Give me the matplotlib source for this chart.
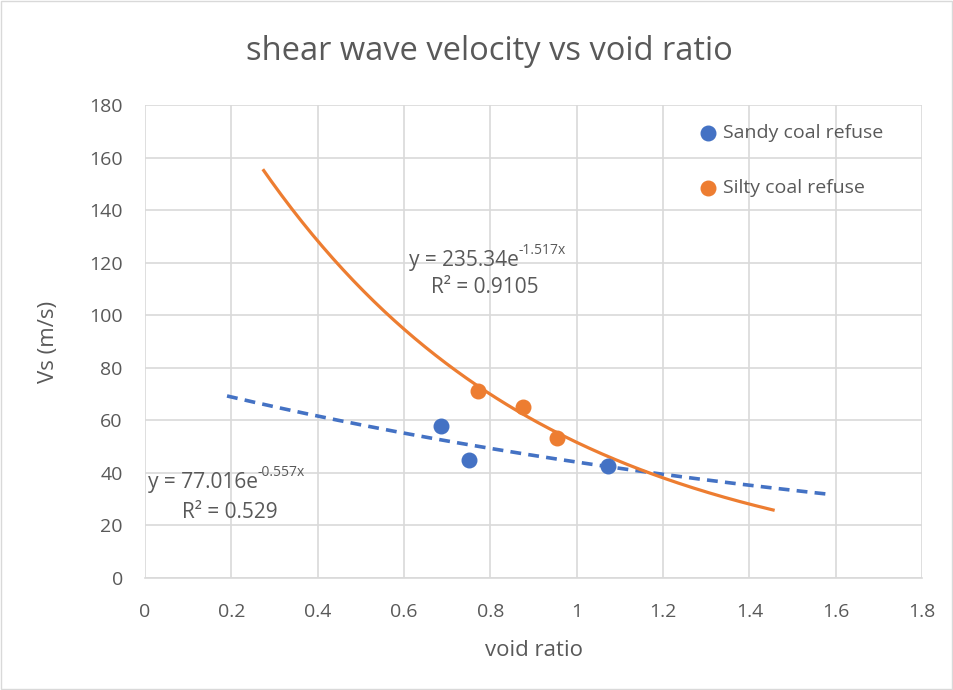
import numpy as np
import matplotlib
matplotlib.use("Agg")
import matplotlib.pyplot as plt
from matplotlib.patches import Rectangle

plt.rcParams['font.family'] = ['Open Sans', 'DejaVu Sans']

sandy_x = [0.686, 0.751, 1.073]
sandy_y = [57.8, 44.9, 42.6]
silty_x = [0.771, 0.876, 0.954]
silty_y = [71.2, 65.1, 53.3]

# trendline coefficients as displayed
sandy_a, sandy_b = 77.016, -0.557
silty_a, silty_b = 235.34, -1.517
sandy_range = (0.19, 1.58)
silty_range = (0.275, 1.455)

blue = '#4472C4'
orange = '#ED7D31'
gray = '#595959'

fig = plt.figure(figsize=(9.54, 6.9), dpi=100)
fig.patches.append(Rectangle((0.001, 0.001), 0.997, 0.997, transform=fig.transFigure,
                             fill=False, edgecolor='#D9D9D9', linewidth=1))
ax = fig.add_axes([0.152, 0.1623, 0.8145, 0.6855])

xs = np.linspace(*sandy_range, 200)
ax.plot(xs, sandy_a * np.exp(sandy_b * xs), color=blue, linewidth=2.6,
        linestyle=(0, (3, 2)), zorder=3)
xo = np.linspace(*silty_range, 200)
ax.plot(xo, silty_a * np.exp(silty_b * xo), color=orange, linewidth=2.3, zorder=3)

ax.scatter(sandy_x, sandy_y, s=110, color=blue, zorder=4, label='Sandy coal refuse')
ax.scatter(silty_x, silty_y, s=110, color=orange, zorder=4, label='Silty coal refuse')

ax.set_xlim(0, 1.8)
ax.set_ylim(0, 180)
ax.set_xticks(np.arange(0, 1.81, 0.2))
ax.set_xticklabels(['0', '0.2', '0.4', '0.6', '0.8', '1', '1.2', '1.4', '1.6', '1.8'])
ax.set_yticks(np.arange(0, 181, 20))
ax.grid(True, color='#D9D9D9', linewidth=1.2)
ax.set_axisbelow(True)
for s in ['top', 'right', 'left']:
    ax.spines[s].set_visible(False)
ax.spines['bottom'].set_color('#D9D9D9')
ax.spines['bottom'].set_linewidth(1.2)
ax.tick_params(length=0, labelsize=14, colors=gray)
ax.tick_params(axis='y', pad=16)
ax.tick_params(axis='x', pad=18)

ax.set_xlabel('void ratio', fontsize=16, color=gray, labelpad=14)
ax.set_ylabel('Vs (m/s)', fontsize=16, color=gray, labelpad=22)
fig.text(0.513, 0.925, 'shear wave velocity vs void ratio', fontsize=23.5, color=gray,
         ha='center', va='center')


def trend_label(x, y, base, sup, r2, r2x, r2y):
    t = ax.text(x, y, base, fontsize=15, color=gray, ha='right', va='center')
    ax.annotate(sup, xy=(1, 0.62), xycoords=t, fontsize=10, color=gray,
                ha='left', va='bottom')
    ax.text(r2x, r2y, r2, fontsize=15, color=gray, ha='center', va='center')


trend_label(0.866, 120.8, 'y = 235.34e', '-1.517x', 'R² = 0.9105', 0.788, 110.5)
trend_label(0.261, 36.3, 'y = 77.016e', '-0.557x', 'R² = 0.529', 0.197, 24.9)

leg = ax.legend(loc='center left', bbox_to_anchor=(1.236, 159), bbox_transform=ax.transData,
                frameon=False, fontsize=14, labelcolor=gray, handletextpad=-0.2,
                labelspacing=1.9, scatterpoints=1, borderpad=0)
fig.savefig('out.png', dpi=100)
